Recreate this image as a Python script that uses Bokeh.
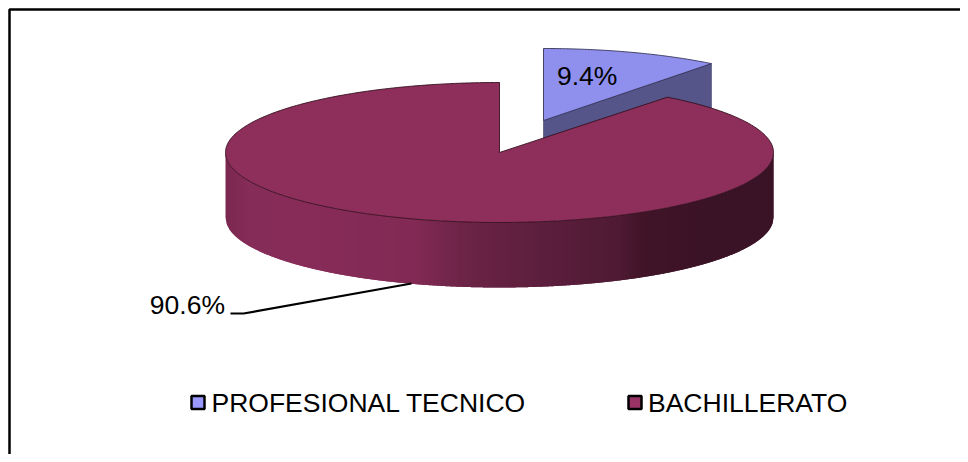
import numpy as np
from bokeh.plotting import figure
from bokeh.models import Range1d
from bokeh.core.properties import value
from bokeh.embed import file_html
from bokeh.resources import INLINE

# ---- data ----
categories = ["PROFESIONAL TECNICO", "BACHILLERATO"]
values = [9.4, 90.6]
labels = ["9.4%", "90.6%"]
face_colors = ["#8F8FEE", "#8E2F5B"]
wall_color = "#55558A"
swatch_colors = ["#9999FF", "#993366"]

# ---- 3D pie geometry ----
RX, RY, DEPTH = 274.0, 70.0, 65.0
CX, CY = 499.0, 152.0
EX_CX, EX_CY = 543.0, 120.0   # exploded slice apex
EX_RY = 72.0
WARP = 1.157                  # perspective widening of the angle around the top

total = sum(values)
split = 2 * np.pi * values[0] / total


def proj(theta, ry=RY):
    """Turn a true pie angle (clockwise from 12 o'clock) into ellipse x, y offsets."""
    t = np.arctan2(np.sin(theta) * WARP, np.cos(theta))
    return RX * np.sin(t), -ry * np.cos(t)


p = figure(width=960, height=454, output_backend="svg", toolbar_location=None,
           x_range=Range1d(0, 960), y_range=Range1d(454, 0),
           min_border=0, outline_line_color=None, background_fill_color="white")
p.axis.visible = False
p.grid.visible = False

# chart border (right and bottom edges fall outside the picture)
p.line([9, 9, 960], [454, 9, 9], line_color="black", line_width=2.5)

# exploded slice: wall then top face
th = np.linspace(0, split, 60)
dx, dy = proj(th, EX_RY)
rx, ry = dx[-1] + EX_CX, dy[-1] + EX_CY
p.patch([EX_CX, rx, rx, EX_CX], [EX_CY, ry, ry + DEPTH, EX_CY + DEPTH],
        fill_color=wall_color, line_color="#3E3E66", line_width=0.6)
p.patch(np.r_[EX_CX, EX_CX + dx], np.r_[EX_CY, EX_CY + dy],
        fill_color=face_colors[0], line_color="#34345A", line_width=0.9)

# main slice wall: shaded strips painted left to right, each overlapping the next
stops_x = [0.00, 0.04, 0.14, 0.347, 0.42, 0.49, 0.61, 0.72, 0.757, 0.867, 1.00]
stops_c = [(0x7A, 0x28, 0x50), (0x86, 0x2C, 0x58), (0x88, 0x2C, 0x59),
           (0x82, 0x2A, 0x55), (0x70, 0x25, 0x49), (0x66, 0x22, 0x43),
           (0x5A, 0x1E, 0x3C), (0x4F, 0x1A, 0x34), (0x42, 0x15, 0x29),
           (0x3C, 0x13, 0x26), (0x3B, 0x13, 0x26)]
n = 137
xs, ys, cs = [], [], []
edges = np.linspace(-1, 1, n + 1)
w = edges[1] - edges[0]
for i in range(n):
    a = edges[i]
    b = min(a + 2 * w, 1.0)
    sx = np.linspace(a, b, 8)
    top = CY + RY * np.sqrt(np.clip(1 - sx ** 2, 0, 1))
    xs.append(list(CX + RX * sx) + list(CX + RX * sx[::-1]))
    ys.append(list(top) + list(top[::-1] + DEPTH))
    f = (a + w / 2 + 1) / 2
    c = [np.interp(f, stops_x, [s[k] for s in stops_c]) for k in range(3)]
    cs.append("#%02X%02X%02X" % tuple(int(v) for v in c))
p.patches(xs, ys, fill_color=cs, line_color=None)

# main slice top face
th = np.linspace(split, 2 * np.pi, 360)
dx, dy = proj(th)
p.patch(np.r_[CX, CX + dx], np.r_[CY, CY + dy],
        fill_color=face_colors[1], line_color="#35101F", line_width=0.9)

font = value("Liberation Sans")
# data labels
p.text([556.5], [75], text=[labels[0]], text_font=font, text_font_size="26.5px",
       text_color="black", text_align="left", text_baseline="middle")
p.text([224.5], [304], text=[labels[1]], text_font=font, text_font_size="26.5px",
       text_color="black", text_align="right", text_baseline="middle")
p.line([230, 243, 411], [313, 313, 283], line_color="black", line_width=2.2)

# legend
leg_x = [190, 627]
p.rect([xx + 7.5 for xx in leg_x], [402, 402], width=13, height=13,
       fill_color=swatch_colors, line_color="black", line_width=2.5)
p.text([211, 647.5], [402, 402], text=categories, text_font=font,
       text_font_size="26.5px", text_color="black", text_align="left", text_baseline="middle")

open("out.html", "w").write(file_html(p, INLINE))
